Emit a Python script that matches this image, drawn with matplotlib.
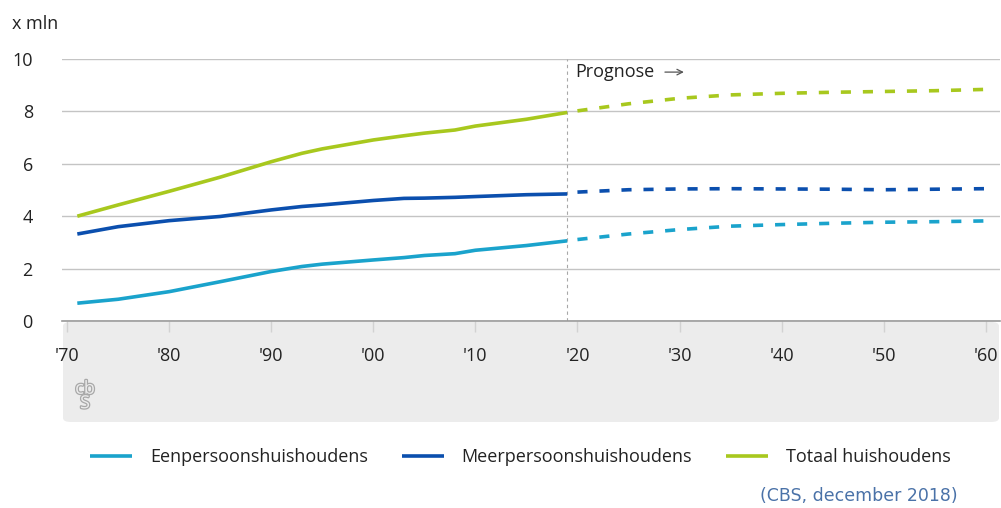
import numpy as np
import matplotlib
matplotlib.use("Agg")
import matplotlib.pyplot as plt
from matplotlib.patches import FancyBboxPatch
import matplotlib.patheffects as pe

plt.rcParams['font.family'] = ['Open Sans', 'DejaVu Sans']

# observed years and values (x mln)
years_obs = [1971, 1975, 1980, 1985, 1990, 1993, 1995, 2000, 2003, 2005, 2008, 2010, 2015, 2019]
een_obs = [0.68, 0.83, 1.12, 1.50, 1.89, 2.08, 2.17, 2.33, 2.42, 2.50, 2.57, 2.70, 2.88, 3.06]
meer_obs = [3.32, 3.60, 3.83, 3.99, 4.24, 4.37, 4.43, 4.60, 4.68, 4.69, 4.72, 4.75, 4.82, 4.85]
tot_obs = [4.00, 4.43, 4.95, 5.49, 6.08, 6.40, 6.57, 6.91, 7.07, 7.17, 7.29, 7.44, 7.70, 7.96]

# prognose
years_prog = [2020, 2025, 2030, 2035, 2040, 2045, 2050, 2055, 2060]
een_prog = [3.11, 3.32, 3.49, 3.62, 3.68, 3.73, 3.77, 3.79, 3.82]
meer_prog = [4.92, 5.01, 5.04, 5.05, 5.04, 5.03, 5.01, 5.03, 5.05]
tot_prog = [8.02, 8.29, 8.50, 8.63, 8.69, 8.73, 8.76, 8.79, 8.84]

xticks = [1970, 1980, 1990, 2000, 2010, 2020, 2030, 2040, 2050, 2060]
xlabels = ["'70", "'80", "'90", "'00", "'10", "'20", "'30", "'40", "'50", "'60"]
yticks = [0, 2, 4, 6, 8, 10]
names = ['Eenpersoonshuishoudens', 'Meerpersoonshuishoudens', 'Totaal huishoudens']
colors = ['#1aa3cc', '#0b4fae', '#a8c81e']

W, H = 1001, 508
fig = plt.figure(figsize=(W / 100, H / 100), dpi=100)

# grey band under the axis
band = FancyBboxPatch((63 / W, (H - 422) / H), (999 - 63) / W, (422 - 322) / H,
                      boxstyle="round,pad=0,rounding_size=0.008",
                      transform=fig.transFigure, facecolor='#ececec',
                      edgecolor='none', zorder=0)
fig.patches.append(band)

ax = fig.add_axes([62 / W, (H - 321) / H, (1000 - 62) / W, (321 - 59) / H])
ax.set_zorder(2)
ax.set_facecolor('none')
ax.set_xlim(1969.5, 2061.4)
ax.set_ylim(0, 10)

for s in ['top', 'right', 'left']:
    ax.spines[s].set_visible(False)
ax.spines['bottom'].set_color('#9a9a9a')
ax.spines['bottom'].set_linewidth(1.2)

ax.set_yticks(yticks)
ax.grid(axis='y', color='#c4c4c4', linewidth=1.0)
ax.set_axisbelow(True)
ax.tick_params(axis='y', length=0, pad=21, labelsize=13, labelcolor='#222222')
ax.set_xticks(xticks)
ax.set_xticklabels(xlabels)
ax.tick_params(axis='x', length=8, width=1, color='#d2d2d2', pad=11,
               labelsize=13, labelcolor='#222222')

lw = 2.6
handles = []
for yo, yp, c, n in zip([een_obs, meer_obs, tot_obs], [een_prog, meer_prog, tot_prog], colors, names):
    h, = ax.plot(years_obs, yo, color=c, lw=lw, solid_capstyle='butt', label=n, zorder=3)
    ax.plot(years_prog, yp, color=c, lw=lw, dashes=(2.8, 3.3), dash_capstyle='butt', zorder=3)
    handles.append(h)

ax.axvline(2019, color='#a8a8a8', lw=0.8, dashes=(3, 3), zorder=2)
ax.text(2019.8, 9.5, 'Prognose', fontsize=13, color='#222222', va='center', ha='left')
ax.annotate('', xy=(2030.7, 9.5), xytext=(2028.3, 9.5),
            arrowprops=dict(arrowstyle='->', color='#555555', lw=0.9))

fig.text(12 / W, (H - 24) / H, 'x mln', fontsize=13, color='#222222', va='center')

# cbs logo
fig.text(85 / W, (H - 396) / H, 'cb\nS', fontsize=13, color='#ececec', ha='center', va='center',
         linespacing=0.75,
         path_effects=[pe.withStroke(linewidth=1.8, foreground='#a8a8a8')])

leg = fig.legend(handles=handles, loc='center left', bbox_to_anchor=(74 / W, (H - 457) / H),
                 ncol=3, frameon=False, fontsize=13, handlelength=2.3, handletextpad=1.0,
                 columnspacing=1.9, labelcolor='#222222')

fig.text(958 / W, (H - 496) / H, '(CBS, december 2018)', fontsize=12.5, color='#4a72a8',
         ha='right', va='center', family=['DejaVu Sans'])

fig.savefig('out.png', dpi=100)
